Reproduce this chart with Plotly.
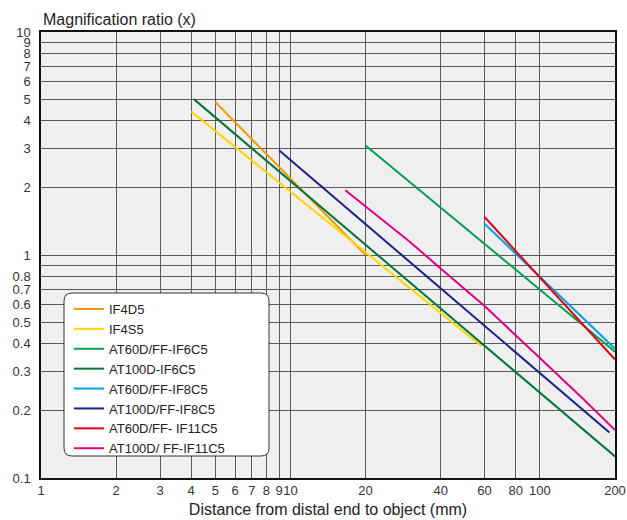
import plotly.graph_objects as go

# ---- data ----
series_names = ["IF4D5", "IF4S5", "AT60D/FF-IF6C5", "AT100D-IF6C5",
                "AT60D/FF-IF8C5", "AT100D/FF-IF8C5", "AT60D/FF- IF11C5", "AT100D/ FF-IF11C5"]

if4d5_x = [5.0, 20.0]
if4d5_y = [4.85, 1.0]
if4s5_x = [4.0, 58.5]
if4s5_y = [4.4, 0.39]
at60_if6_x = [20.0, 200.0]
at60_if6_y = [3.1, 0.368]
at100_if6_x = [4.1, 200.0]
at100_if6_y = [5.0, 0.125]
at60_if8_x = [60.0, 200.0]
at60_if8_y = [1.38, 0.38]
at100_if8_x = [9.0, 190.0]
at100_if8_y = [2.95, 0.16]
at60_if11_x = [60.0, 200.0]
at60_if11_y = [1.48, 0.34]
at100_if11_x = [16.6, 20.0, 30.0, 40.0, 60.0, 100.0, 150.0, 200.0]
at100_if11_y = [1.95, 1.65, 1.15, 0.87, 0.59, 0.345, 0.225, 0.164]

x_tickvals = [1, 2, 3, 4, 5, 6, 7, 8, 9, 10, 20, 40, 60, 80, 100, 200]
x_ticktext = ["1", "2", "3", "4", "5", "6", "7", "8", "9", "10", "20", "40", "60", "80", "100", "200"]
y_tickvals = [0.1, 0.2, 0.3, 0.4, 0.5, 0.6, 0.7, 0.8, 0.9, 1, 2, 3, 4, 5, 6, 7, 8, 9, 10]
y_ticktext = ["0.1", "0.2", "0.3", "0.4", "0.5", "0.6", "0.7", "0.8", "", "1",
              "2", "3", "4", "5", "6", "7", "8", "9", "10"]

colors = ["#f39800", "#ffd400", "#00a051", "#00773c",
          "#00a0e9", "#1d2088", "#e60012", "#e4007f"]

xs = [if4d5_x, if4s5_x, at60_if6_x, at100_if6_x, at60_if8_x, at100_if8_x, at60_if11_x, at100_if11_x]
ys = [if4d5_y, if4s5_y, at60_if6_y, at100_if6_y, at60_if8_y, at100_if8_y, at60_if11_y, at100_if11_y]

FONT = "Liberation Sans, Arial, Helvetica, sans-serif"

fig = go.Figure()
for name, x, y, c in zip(series_names, xs, ys, colors):
    fig.add_trace(go.Scatter(x=x, y=y, mode="lines", name=name,
                             line=dict(color=c, width=2)))

W, H = 627, 520
L, R, T, B = 41, 12, 32, 42
pw, ph = W - L - R, H - T - B


def px_x(p):
    return (p - L) / pw


def px_y(p):
    return (H - B - p) / ph


# rounded legend box
x0, x1 = px_x(64), px_x(269)
y0, y1 = px_y(456), px_y(293)
rx, ry = 8 / pw, 8 / ph
path = (f"M {x0+rx},{y0} L {x1-rx},{y0} Q {x1},{y0} {x1},{y0+ry} "
        f"L {x1},{y1-ry} Q {x1},{y1} {x1-rx},{y1} L {x0+rx},{y1} "
        f"Q {x0},{y1} {x0},{y1-ry} L {x0},{y0+ry} Q {x0},{y0} {x0+rx},{y0} Z")

fig.update_layout(
    width=W, height=H,
    margin=dict(l=L, r=R, t=T, b=B, pad=0),
    paper_bgcolor="white",
    plot_bgcolor="#efefef",
    font=dict(family=FONT, color="#333333", size=13),
    showlegend=True,
    legend=dict(x=px_x(69), y=px_y(294), xanchor="left", yanchor="top",
                bgcolor="rgba(0,0,0,0)", borderwidth=0,
                font=dict(family=FONT, size=13, color="#222222"),
                tracegroupgap=0),
    shapes=[dict(type="path", path=path, xref="paper", yref="paper",
                 fillcolor="white", line=dict(color="#333333", width=1),
                 layer="above")],
    annotations=[dict(text="Magnification ratio (x)", xref="paper", yref="paper",
                      x=0, y=px_y(19), xanchor="left", yanchor="middle",
                      showarrow=False, font=dict(family=FONT, size=16, color="#222222"))],
)

fig.update_xaxes(type="log", range=[0, 2.30103], tickvals=x_tickvals, ticktext=x_ticktext,
                 tickangle=0,
                 showgrid=True, gridcolor="#5a5a5a", gridwidth=1, zeroline=False,
                 showline=True, linecolor="#111111", linewidth=1.5, mirror=True,
                 ticks="", tickfont=dict(size=13, color="#333333"),
                 title=dict(text="Distance from distal end to object (mm)",
                            font=dict(family=FONT, size=16, color="#222222"), standoff=6),
                 automargin=False)
fig.update_yaxes(type="log", range=[-1, 1], tickvals=y_tickvals, ticktext=y_ticktext,
                 showgrid=True, gridcolor="#5a5a5a", gridwidth=1, zeroline=False,
                 showline=True, linecolor="#111111", linewidth=1.5, mirror=True,
                 ticks="", ticklabelstandoff=6, tickfont=dict(size=13, color="#333333"),
                 automargin=False)

fig.write_html("out.html")
